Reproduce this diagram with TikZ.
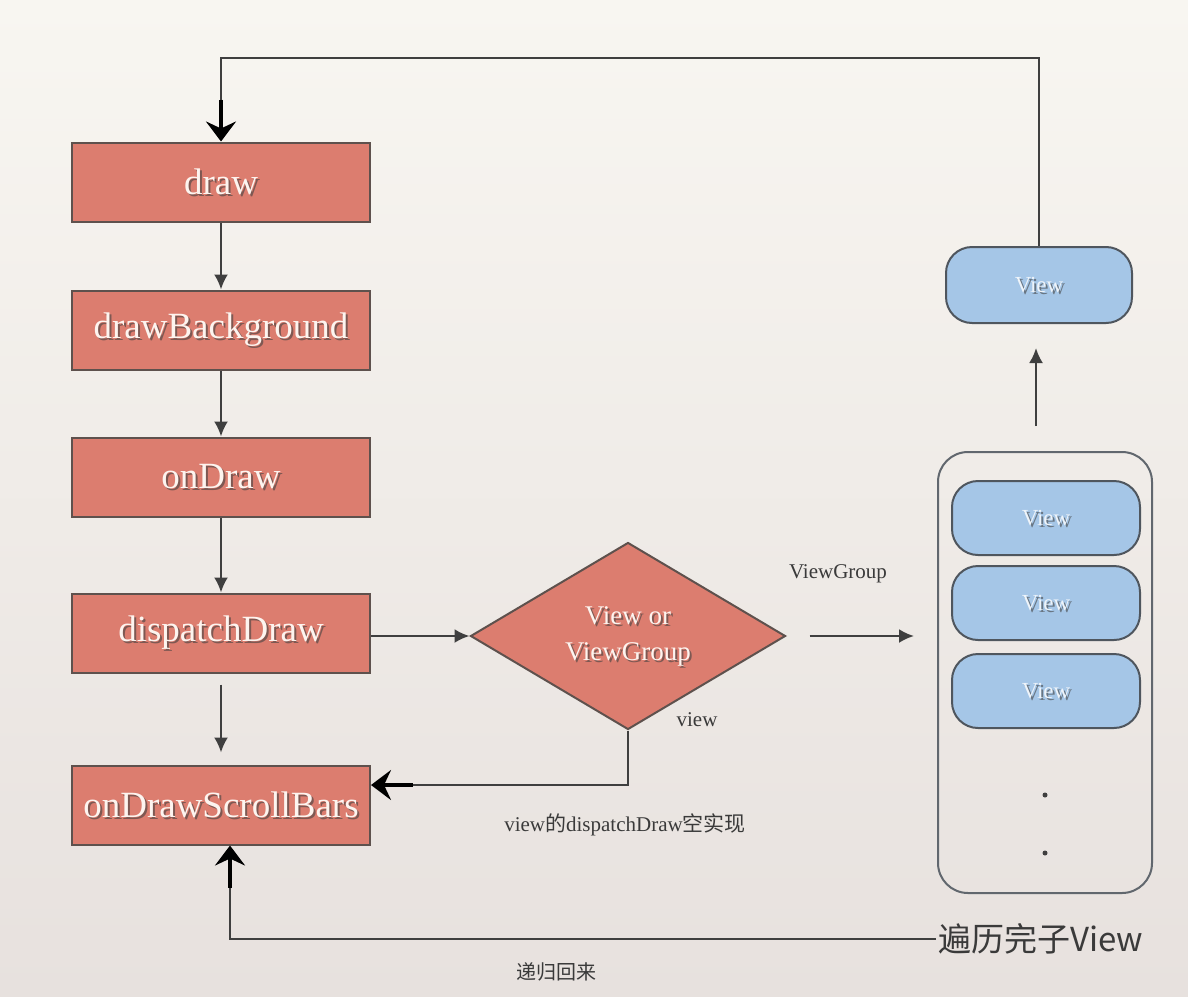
\documentclass[tikz,border=0pt]{standalone}
\usepackage{fontspec}
\setmainfont{Liberation Serif}
\newfontfamily\cjk{Noto Sans CJK SC}
\usetikzlibrary{shapes.geometric,arrows.meta,calc}
\definecolor{salmon}{HTML}{DC7D6F}
\definecolor{salmonline}{HTML}{5E514D}
\definecolor{viewblue}{HTML}{A5C6E7}
\definecolor{blueline}{HTML}{4F565E}
\definecolor{bgtop}{HTML}{F8F6F1}
\definecolor{bgbot}{HTML}{E7E1DE}
\definecolor{linegray}{HTML}{3F3F3F}
\definecolor{txtgray}{HTML}{3A3A3A}
\definecolor{boxtxt}{HTML}{FDF4EF}
\definecolor{bluetxt}{HTML}{EEF4FA}
\newcommand{\shtxt}[4]{%
  \node[#1,text=black!75,opacity=0.6] at ([shift={(2pt,-2pt)}]#2) {#4};
  \node[#1] (#3) at (#2) {#4};}
\begin{document}
\begin{tikzpicture}[x=1pt,y=-1pt,
  redbox/.style={draw=salmonline,fill=salmon,line width=2pt,minimum width=298pt,minimum height=79pt,inner sep=0pt},
  redtxt/.style={text=boxtxt,font=\fontsize{37}{40}\selectfont},
  diatxt/.style={text=boxtxt,font=\fontsize{27}{36}\selectfont,align=center},
  bluebox/.style={draw=blueline,fill=viewblue,line width=2pt,rounded corners=26pt,minimum width=188pt,minimum height=74pt,inner sep=0pt},
  bluetxtst/.style={text=bluetxt,font=\fontsize{23}{25}\selectfont},
  container/.style={draw=blueline!90,line width=2pt,rounded corners=30pt,minimum width=214pt,minimum height=441pt,inner sep=0pt},
  thinarrow/.style={draw=linegray,line width=2.3pt,-{Latex[length=15pt,width=14pt]}},
  loopline/.style={draw=linegray,line width=2.8pt},
  thickarrow/.style={color=black,line width=4.5pt,-{Stealth[length=20pt,width=30pt,inset=7pt,fill=black]}},
  lbl/.style={text=txtgray,font=\fontsize{21}{24}\selectfont},
  dotnode/.style={circle,fill=linegray,minimum size=5pt,inner sep=0pt}]
\useasboundingbox (0,0) rectangle (1188,996);
\shade[top color=bgtop,bottom color=bgbot] (0,0) rectangle (1188,996);
% left column boxes
\node[redbox] (draw) at (221,182) {};
\node[redbox] (bg) at (221,330) {};
\node[redbox] (ondraw) at (221,477) {};
\node[redbox] (disp) at (221,633) {};
\node[redbox] (scroll) at (221,805) {};
\shtxt{redtxt}{draw}{tdraw}{draw}
\shtxt{redtxt}{bg}{tbg}{drawBackground}
\shtxt{redtxt}{ondraw}{tondraw}{onDraw}
\shtxt{redtxt}{disp}{tdisp}{dispatchDraw}
\shtxt{redtxt}{scroll}{tscroll}{onDrawScrollBars}
% diamond
\node[diamond,draw=salmonline,fill=salmon,line width=2pt,minimum width=315pt,minimum height=187pt,inner sep=0pt] (dia) at (628,636) {};
\shtxt{diatxt}{dia}{tdia}{View or\\ViewGroup}
% right side
\node[container] (cont) at (1045,672.5) {};
\node[bluebox] (v1) at (1046,518) {};
\node[bluebox] (v2) at (1046,603) {};
\node[bluebox] (v3) at (1046,691) {};
\node[bluebox,minimum width=186pt,minimum height=76pt] (topview) at (1039,285) {};
\shtxt{bluetxtst}{v1}{tv1}{View}
\shtxt{bluetxtst}{v2}{tv2}{View}
\shtxt{bluetxtst}{v3}{tv3}{View}
\shtxt{bluetxtst}{topview}{ttop}{View}
\node[dotnode] (dot1) at (1045,795) {};
\node[dotnode] (dot2) at (1045,853) {};
% labels
\node[lbl] (lview) at (697,720) {view};
\node[lbl] (lvg) at (838,574) {ViewGroup};
\node[lbl] (lempty) at (625,825) {view{\cjk 的}dispatchDraw{\cjk 空实现}};
\node[text=txtgray,font=\cjk\fontsize{33}{36}\selectfont,inner sep=2pt,anchor=west] (trav) at (936,939) {遍历完子View};
\node[text=txtgray,font=\cjk\fontsize{20}{22}\selectfont] (lrec) at (556,972) {递归回来};
% thin arrows down the column
\draw[thinarrow] (draw) -- (bg);
\draw[thinarrow] (bg) -- (ondraw);
\draw[thinarrow] (ondraw) -- (disp);
\draw[thinarrow,shorten <=11pt,shorten >=12pt] (disp) -- (scroll);
\draw[thinarrow] (disp.east |- dia.west) -- (dia.west);
\coordinate (vga) at ($(dia.east)+(23,0)$);
\coordinate (vgb) at ($(cont.west |- dia.east)+(-23,0)$);
\draw[thinarrow] (vga) -- (vgb);
\coordinate (upa) at ($(cont.north)+(-9,-25)$);
\coordinate (upb) at ($(topview.south)+(-3,24)$);
\draw[thinarrow] (upa) -- (upb);
% top loop
\coordinate (tr) at (topview.north |- 0,58);
\coordinate (tl) at (draw.north |- 0,58);
\draw[loopline] (topview.north) -- (tr) -- (tl) -- ($(draw.north)+(0,-30)$);
\draw[thickarrow] ($(draw.north)+(0,-42)$) -- (draw.north);
% view path
\coordinate (dl) at (dia.south |- 0,785);
\coordinate (dr) at (scroll.east |- 0,785);
\draw[loopline] (dia.south) -- (dl) -- ($(dr)+(30,0)$);
\draw[thickarrow] ($(dr)+(42,0)$) -- (dr);
% bottom loop
\coordinate (sb) at ($(scroll.south)+(9,0)$);
\coordinate (bl) at (sb |- trav.west);
\draw[loopline] (trav.west) -- (bl) -- ($(sb)+(0,30)$);
\draw[thickarrow] ($(sb)+(0,42)$) -- (sb);
\end{tikzpicture}
\end{document}
